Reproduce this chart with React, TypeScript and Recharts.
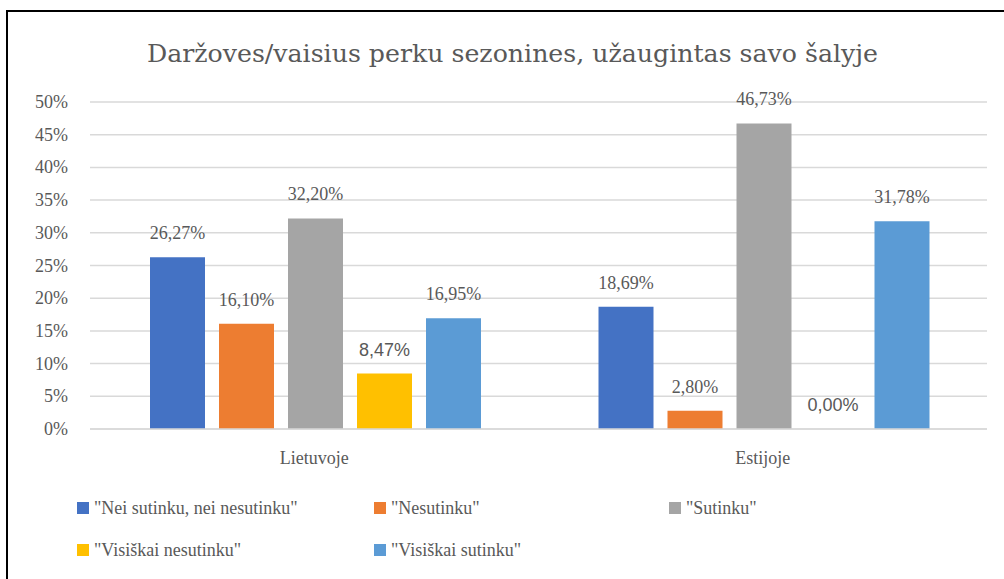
import { Bar, BarChart, CartesianGrid, LabelList, XAxis, YAxis } from 'recharts';

const categories = ['Lietuvoje', 'Estijoje'];
const neiSutinku = [26.27, 18.69];
const nesutinku = [16.1, 2.8];
const sutinku = [32.2, 46.73];
const visiskaiNesutinku = [8.47, 0.0];
const visiskaiSutinku = [16.95, 31.78];
const yTicks = [0, 5, 10, 15, 20, 25, 30, 35, 40, 45, 50];

const series = [
    { key: 'a', name: '"Nei sutinku, nei nesutinku"', values: neiSutinku, color: '#4472C4', sans: false },
    { key: 'b', name: '"Nesutinku"', values: nesutinku, color: '#ED7D31', sans: false },
    { key: 'c', name: '"Sutinku"', values: sutinku, color: '#A5A5A5', sans: false },
    { key: 'd', name: '"Visiškai nesutinku"', values: visiskaiNesutinku, color: '#FFC000', sans: true },
    { key: 'e', name: '"Visiškai sutinku"', values: visiskaiSutinku, color: '#5B9BD5', sans: false },
];

const data = categories.map((cat, i) => {
    const row: Record<string, string | number> = { cat };
    series.forEach((s) => {
        row[s.key] = s.values[i];
    });
    return row;
});

// Liberation Serif is only picked at small sizes in this browser, so keep it at 18px
const SERIF = 'Liberation Serif';
const TITLE_SERIF = 'DejaVu Serif';
const SANS = 'Liberation Sans';
const TEXT = '#595959';
const FS = 18;

const fmt = (v: number) => `${v.toFixed(2).replace('.', ',')}%`;

const makeLabel = (sans: boolean) => (props: any) => {
    const { x, y, width, value } = props;
    return (
        <text
            x={Number(x) + Number(width) / 2}
            y={Number(y) - 18}
            textAnchor="middle"
            fill={TEXT}
            fontFamily={sans ? SANS : SERIF}
            fontSize={FS}
        >
            {fmt(Number(value))}
        </text>
    );
};

const YTick = (props: any) => (
    <text x={props.x} y={props.y + 6} textAnchor="end" fill={TEXT} fontFamily={SERIF} fontSize={FS}>
        {`${props.payload.value}%`}
    </text>
);

const XTick = (props: any) => (
    <text x={props.x} y={props.y + 35} textAnchor="middle" fill={TEXT} fontFamily={SERIF} fontSize={FS}>
        {props.payload.value}
    </text>
);

const legendCols = [77, 374, 669];
const legendRows = [508, 550];

export default function App() {
    return (
        <div
            style={{
                position: 'fixed',
                left: 0,
                top: 0,
                width: 1004,
                height: 579,
                overflow: 'hidden',
                background: '#fff',
            }}
        >
            <div
                style={{
                    position: 'absolute',
                    left: 6,
                    top: 10,
                    width: 1100,
                    height: 700,
                    border: '2px solid #000',
                    boxSizing: 'border-box',
                }}
            />
            <div style={{ position: 'absolute', left: 0, top: 0 }}>
                <BarChart
                    width={1004}
                    height={579}
                    data={data}
                    margin={{ top: 102, right: 17, left: 0, bottom: 110 }}
                    barCategoryGap={60}
                    barGap={14}
                >
                    <CartesianGrid vertical={false} stroke="#D9D9D9" strokeWidth={1.5} />
                    <XAxis
                        dataKey="cat"
                        height={40}
                        tickLine={false}
                        axisLine={{ stroke: '#D9D9D9', strokeWidth: 1.5 }}
                        tickSize={0}
                        tickMargin={0}
                        tick={XTick}
                    />
                    <YAxis
                        width={90}
                        domain={[0, 50]}
                        ticks={yTicks}
                        interval={0}
                        tickLine={false}
                        axisLine={false}
                        tickSize={0}
                        tickMargin={22}
                        tick={YTick}
                    />
                    {series.map((s) => (
                        <Bar
                            key={s.key}
                            dataKey={s.key}
                            name={s.name}
                            fill={s.color}
                            minPointSize={0.01}
                            isAnimationActive={false}
                        >
                            <LabelList dataKey={s.key} content={makeLabel(s.sans)} />
                        </Bar>
                    ))}
                </BarChart>
            </div>
            <svg
                width={1004}
                height={579}
                style={{ position: 'absolute', left: 0, top: 0, pointerEvents: 'none' }}
            >
                <text
                    x={147}
                    y={62}
                    textLength={731}
                    lengthAdjust="spacingAndGlyphs"
                    fill={TEXT}
                    fontFamily={TITLE_SERIF}
                    fontSize={25}
                >
                    Daržoves/vaisius perku sezonines, užaugintas savo šalyje
                </text>
                {series.map((s, i) => {
                    const col = legendCols[i < 3 ? i : i - 3];
                    const row = legendRows[i < 3 ? 0 : 1];
                    return (
                        <g key={s.key}>
                            <rect x={col} y={row - 6} width={12} height={12} fill={s.color} />
                            <text x={col + 17} y={row + 6} fill={TEXT} fontFamily={SERIF} fontSize={FS}>
                                {s.name}
                            </text>
                        </g>
                    );
                })}
            </svg>
        </div>
    );
}
